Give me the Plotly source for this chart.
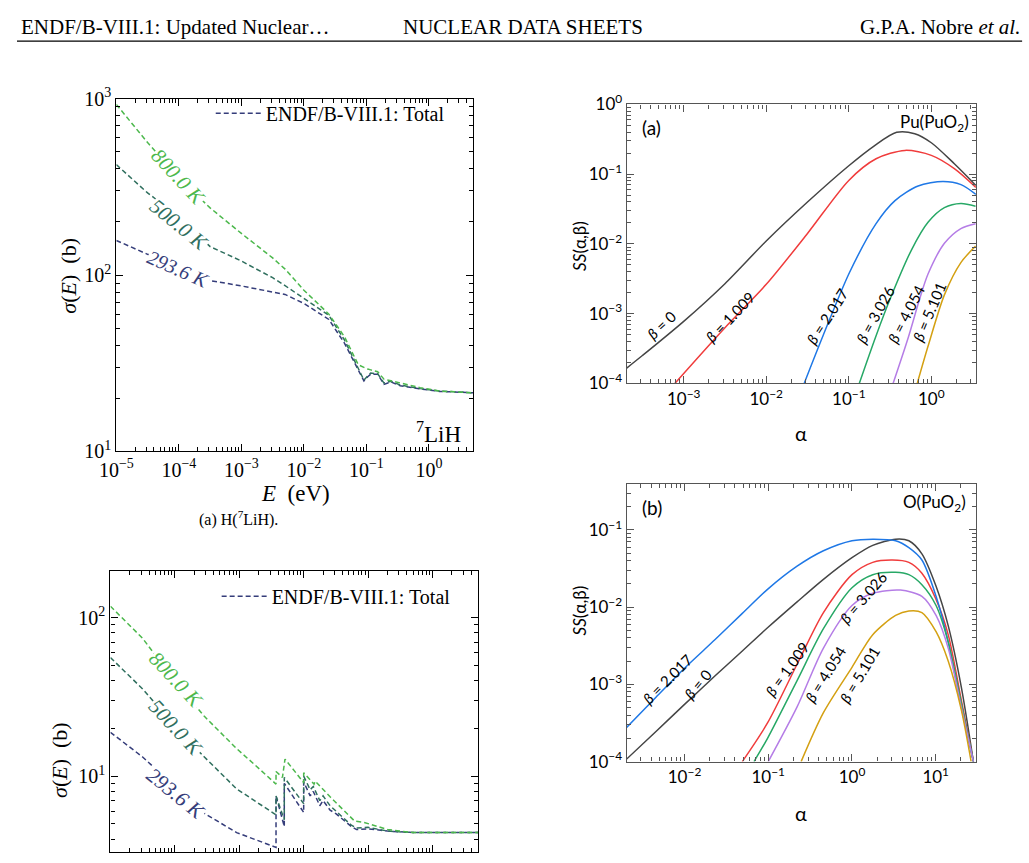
import plotly.graph_objects as go

W, H = 1029, 863

# ---------------- data: H(7LiH) total cross section (top-left) ----------------
E_lih = [1e-5, 3.16e-5, 1e-4, 3.16e-4, 1e-3, 3.16e-3, 5.0e-3, 0.01, 0.0251, 0.0447,
         0.0741, 0.0912, 0.105, 0.117, 0.151, 0.191, 0.245, 0.347, 0.724, 1.48, 5.13]
sig_lih_293 = [157, 131, 112, 93, 86.7, 80, 77.6, 69, 56, 41,
               29, 25.1, 26.5, 27.4, 27.4, 24, 24.8, 23.6, 22.6, 21.9, 21.5]
sig_lih_500 = [422, 292, 214, 145, 120, 96.6, 87, 74, 59, 42.7,
               29.5, 25.4, 26.8, 27.8, 27.6, 24.4, 25.0, 23.8, 22.7, 22.0, 21.5]
sig_lih_800 = [927, 563, 355, 240, 172, 125, 108, 82, 60, 44.6,
               31, 29.8, 29.3, 29.0, 28.3, 25.7, 25.2, 24.3, 23.0, 22.0, 21.5]

# ---------------- data: second material (bottom-left) ----------------
E_b_293 = [1e-5, 3.16e-5, 4.9e-5, 1e-4, 2.82e-4, 9.1e-4, 3.72e-3, 3.72e-3, 5.0e-3, 5.0e-3,
           0.01, 0.01, 0.0126, 0.0141, 0.0178, 0.02, 0.0257, 0.0316, 0.055, 0.066,
           0.1, 0.2, 0.5, 5.13]
sig_b_293 = [18.9, 13.2, 11.2, 8.5, 5.85, 4.4, 3.55, 7.5, 4.8, 9.0,
             5.9, 9.2, 7.5, 8.0, 6.5, 7.0, 6.1, 5.8, 4.8, 4.6,
             4.65, 4.5, 4.4, 4.4]
E_b_500 = E_b_293
sig_b_500 = [56, 35.5, 28.9, 20.4, 13.3, 8.3, 5.7, 7.5, 5.3, 9.8,
             6.7, 10.0, 8.2, 8.6, 7.0, 7.5, 6.5, 6.0, 4.9, 4.7,
             4.75, 4.5, 4.4, 4.4]
E_b_800 = [1e-5, 3.16e-5, 4.9e-5, 1e-4, 2.82e-4, 9.1e-4, 1.62e-3, 3.72e-3, 3.72e-3, 4.68e-3,
           5.13e-3, 0.01, 0.01, 0.0145, 0.0151, 0.0257, 0.0617, 0.0871, 0.2, 0.5, 5.13]
sig_b_800 = [118, 74, 58.5, 40, 24, 14.9, 12.1, 8.9, 10.7, 9.8,
             12.8, 9.1, 10.5, 8.9, 9.3, 7.4, 5.2, 5.1, 4.6, 4.4, 4.4]

# ---------------- data: Pu(PuO2) S(alpha,beta) (top-right) ----------------
a_pu_b0 = [2.04e-4, 3.16e-4, 1e-3, 3.16e-3, 0.01, 0.0316, 0.1, 0.2, 0.38, 0.63, 1.0, 1.9, 3.47]
s_pu_b0 = [1.66e-4, 2.51e-4, 7.76e-4, 2.69e-3, 0.011, 0.0398, 0.132, 0.251, 0.398, 0.38, 0.282, 0.141, 0.069]
a_pu_b1 = [7.8e-4, 3.16e-3, 0.01, 0.0316, 0.1, 0.214, 0.479, 1.0, 1.9, 3.47]
s_pu_b1 = [1e-4, 6.3e-4, 2.63e-3, 0.0141, 0.0813, 0.166, 0.219, 0.186, 0.120, 0.0646]
a_pu_b2 = [0.0288, 0.049, 0.102, 0.214, 0.363, 0.692, 1.38, 2.29, 3.47]
s_pu_b2 = [1e-4, 4.9e-4, 3.89e-3, 0.0195, 0.0417, 0.0676, 0.0785, 0.0708, 0.0513]
a_pu_b3 = [0.134, 0.211, 0.319, 0.578, 0.912, 1.44, 2.28, 3.44]
s_pu_b3 = [1e-4, 4.6e-4, 1.66e-3, 8.3e-3, 0.0204, 0.0331, 0.038, 0.0347]
a_pu_b4 = [0.344, 0.527, 0.726, 0.912, 1.44, 2.28, 3.44]
s_pu_b4 = [1e-4, 4.6e-4, 1.66e-3, 3.7e-3, 0.0102, 0.0166, 0.0195]
a_pu_b5 = [0.675, 0.912, 1.44, 2.28, 3.44]
s_pu_b5 = [1e-4, 3.4e-4, 1.86e-3, 5.4e-3, 9.3e-3]

# ---------------- data: O(PuO2) S(alpha,beta) (bottom-right) ----------------
a_o = [0.00202, 0.00456, 0.01, 0.0232, 0.049, 0.098, 0.221, 0.456, 1.0, 1.77, 3.32,
       4.78, 6.84, 10.1, 14.1, 20.2, 28.2]
s_o_b2 = [2.75e-4, 6.8e-4, 1.62e-3, 3.8e-3, 8.3e-3, 0.017, 0.0339, 0.0537, 0.0724, 0.0759, 0.0724,
          0.0589, 0.0407, 0.0138, 3.55e-3, 5.1e-4, 1.0e-4]
s_o_b0 = [1.07e-4, 2.45e-4, 5.5e-4, 1.29e-3, 2.7e-3, 5.4e-3, 0.0117, 0.0229, 0.0437, 0.0631, 0.0759,
          0.0724, 0.049, 0.0186, 5.75e-3, 9.3e-4, 1.0e-4]
a_o_b1 = [0.049, 0.098, 0.221, 0.456, 1.0, 1.77, 3.03, 4.78, 6.84, 10.1, 14.1, 20.2, 28.2]
s_o_b1 = [1e-4, 3.16e-4, 1.82e-3, 8.5e-3, 0.0263, 0.038, 0.0407, 0.038, 0.0275, 0.0126, 4.4e-3, 6.3e-4, 1e-4]
a_o_b3 = [0.0676, 0.098, 0.221, 0.456, 1.0, 1.77, 3.32, 4.78, 6.84, 10.1, 14.1, 20.2, 28.2]
s_o_b3 = [1e-4, 2.0e-4, 1.12e-3, 5.25e-3, 0.0178, 0.0263, 0.0282, 0.0263, 0.0195, 0.0105, 3.55e-3, 5.75e-4, 1e-4]
a_o_b4 = [0.1, 0.221, 0.456, 1.0, 1.77, 3.8, 6.84, 10.1, 14.1, 20.2, 28.2]
s_o_b4 = [1e-4, 5.1e-4, 2.95e-3, 0.0105, 0.0151, 0.0166, 0.0138, 7.8e-3, 2.95e-3, 5.1e-4, 1e-4]
a_o_b5 = [0.247, 0.456, 1.0, 1.77, 3.32, 4.78, 6.84, 10.1, 14.1, 20.2, 26.5]
s_o_b5 = [1e-4, 4.3e-4, 1.66e-3, 4.4e-3, 7.8e-3, 8.9e-3, 8.5e-3, 4.8e-3, 2.0e-3, 4.7e-4, 1e-4]

temp_labels = ["293.6 K", "500.0 K", "800.0 K"]
beta_labels = ["0", "1.009", "2.017", "3.026", "4.054", "5.101"]

# ---------------- styling ----------------
C_T = ["#353d7a", "#2f6f5e", "#4cb84c"]
C_B = ["#454545", "#f03c3c", "#1f78e6", "#27a866", "#b57de6", "#d4a012"]
SERIF = "Liberation Serif"
SANS = "Lato"


def px(x):
    return x / W


def py(y):
    return 1 - y / H


def sup(e):
    return "10<sup>" + str(e).replace("-", "\u2212") + "</sup>"


def log_axis(dom, rng, anchor, e0, e1, font, lc, lw, labels=True):
    vals = [10.0 ** e for e in range(e0, e1 + 1)]
    minor = [k * 10.0 ** e for e in range(e0 - 1, e1 + 1) for k in range(2, 10)]
    return dict(type="log", domain=dom, range=rng, anchor=anchor,
                showline=True, linecolor=lc, linewidth=lw, mirror="allticks",
                ticks="inside", ticklen=7, tickwidth=1, tickcolor=lc,
                tickmode="array", tickvals=vals, ticktext=[sup(e) for e in range(e0, e1 + 1)],
                showticklabels=labels, tickfont=font,
                minor=dict(tickmode="array", tickvals=minor, ticks="inside",
                           ticklen=4, tickwidth=1, tickcolor=lc, showgrid=False),
                showgrid=False, zeroline=False)


fig = go.Figure()
dash = "5px,3px"

# top-left
for E, s, c, name, show in [(E_lih, sig_lih_293, C_T[0], "ENDF/B-VIII.1: Total", True),
                            (E_lih, sig_lih_500, C_T[1], "500 K", False),
                            (E_lih, sig_lih_800, C_T[2], "800 K", False)]:
    fig.add_trace(go.Scatter(x=E, y=s, mode="lines", name=name, showlegend=show,
                             line=dict(color=c, width=1.5, dash=dash),
                             xaxis="x", yaxis="y", legend="legend"))
# bottom-left
for E, s, c, name, show in [(E_b_293, sig_b_293, C_T[0], "ENDF/B-VIII.1: Total", True),
                            (E_b_500, sig_b_500, C_T[1], "500 K", False),
                            (E_b_800, sig_b_800, C_T[2], "800 K", False)]:
    fig.add_trace(go.Scatter(x=E, y=s, mode="lines", name=name, showlegend=show,
                             line=dict(color=c, width=1.5, dash=dash),
                             xaxis="x2", yaxis="y2", legend="legend2"))
# top-right
for a, s, c in zip([a_pu_b0, a_pu_b1, a_pu_b2, a_pu_b3, a_pu_b4, a_pu_b5],
                   [s_pu_b0, s_pu_b1, s_pu_b2, s_pu_b3, s_pu_b4, s_pu_b5], C_B):
    fig.add_trace(go.Scatter(x=a, y=s, mode="lines", showlegend=False,
                             line=dict(color=c, width=1.5, shape="spline", smoothing=0.8),
                             xaxis="x3", yaxis="y3"))
# bottom-right
for a, s, c in zip([a_o, a_o_b1, a_o, a_o_b3, a_o_b4, a_o_b5],
                   [s_o_b0, s_o_b1, s_o_b2, s_o_b3, s_o_b4, s_o_b5], C_B):
    fig.add_trace(go.Scatter(x=a, y=s, mode="lines", showlegend=False,
                             line=dict(color=c, width=1.5, shape="spline", smoothing=0.8),
                             xaxis="x4", yaxis="y4"))

fL = dict(family=SERIF, size=20, color="black")
fR = dict(family=SANS, size=17, color="black")

ann = []


def A(x, y, text, size, color="black", family=SERIF, angle=0, xanchor="center", bg=None, yanchor="middle"):
    d = dict(x=px(x), y=py(y), xref="paper", yref="paper", text=text, showarrow=False,
             font=dict(family=family, size=size, color=color), textangle=angle,
             xanchor=xanchor, yanchor=yanchor)
    if bg:
        d["bgcolor"] = bg
        d["borderpad"] = 0
    ann.append(d)


# header
A(2, 14, "ENDF/B-VIII.1: Updated Nuclear\u2026", 21, xanchor="left")
A(515, 14, "NUCLEAR DATA SHEETS", 21)
A(1022, 14, "G.P.A. Nobre <i>et al.</i>", 21, xanchor="right")

# top-left texts
A(52, 270, "<i>σ</i>(<i>E</i>)\u2002(b)", 22, angle=-90)
A(283, 494, "<i>E</i>\u2002(eV)", 23)
A(225, 520, "(a) H(<sup>7</sup>LiH).", 16)
A(453, 432, "<sup>7</sup>LiH", 23, xanchor="right")
A(164, 169, "<i>" + temp_labels[2] + "</i>", 21, C_T[2], angle=47, bg="white")
A(165, 218, "<i>" + temp_labels[1] + "</i>", 21, C_T[1], angle=39, bg="white")
A(164, 263, "<i>" + temp_labels[0] + "</i>", 20, C_T[0], angle=24, bg="white")

# bottom-left texts
A(43, 768, "<i>σ</i>(<i>E</i>)\u2002(b)", 22, angle=-90)
A(162, 686, "<i>" + temp_labels[2] + "</i>", 21, C_T[2], angle=47, bg="white")
A(162, 735, "<i>" + temp_labels[1] + "</i>", 21, C_T[1], angle=47, bg="white")
A(162, 803, "<i>" + temp_labels[0] + "</i>", 21, C_T[0], angle=39, bg="white")

# top-right texts
A(572, 240, "<i>SS</i>(α,β)", 17, family=SANS, angle=-90)
A(797, 432, "α", 20, family=SANS)
A(645, 118, "(a)", 19, family=SANS)
A(970, 113, "Pu(PuO<sub>2</sub>)", 17, family=SANS, xanchor="right")
for (x, y, ang), b in zip([(655, 321, -43), (725, 313, -46), (824, 312, -57),
                           (873, 310, -61), (904, 310, -63), (928, 307, -67)], beta_labels):
    A(x, y, "<i>β</i> = " + b, 15, family=SANS, angle=ang)

# bottom-right texts
A(572, 615, "<i>SS</i>(α,β)", 17, family=SANS, angle=-90)
A(797, 823, "α", 20, family=SANS)
A(646, 509, "(b)", 19, family=SANS)
A(967, 504, "O(PuO<sub>2</sub>)", 17, family=SANS, xanchor="right")
for (x, y, ang), b in zip([(692, 690, -50), (783, 675, -54), (661, 685, -45),
                           (861, 601, -49), (822, 680, -58), (857, 680, -59)], beta_labels):
    A(x, y, "<i>β</i> = " + b, 15, family=SANS, angle=ang)

shapes = [dict(type="line", xref="paper", yref="paper", x0=0, x1=px(1022), y0=py(29), y1=py(29),
               line=dict(color="black", width=1.2))]

leg = dict(xanchor="left", yanchor="top", bgcolor="rgba(0,0,0,0)", borderwidth=0,
           font=dict(family=SERIF, size=20, color="black"), itemwidth=45)

fig.update_layout(
    width=W, height=H, margin=dict(l=0, r=0, t=0, b=0),
    paper_bgcolor="white", plot_bgcolor="white",
    xaxis=log_axis([px(101), px(464)], [-5, 0.71], "y", -5, 0, fL, "black", 1.2),
    yaxis=log_axis([py(451), py(88)], [1, 3], "x", 1, 3, fL, "black", 1.2),
    xaxis2=log_axis([px(95), px(469)], [-5, 0.71], "y2", -5, 0, fL, "black", 1.2, labels=False),
    yaxis2=log_axis([0, py(574)], [0.521, 2.294], "x2", 0, 2, fL, "black", 1.2),
    xaxis3=log_axis([px(620), px(975)], [-3.69, 0.54], "y3", -3, 0, fR, "#555555", 1.4),
    yaxis3=log_axis([py(381), py(94)], [-4, 0], "x3", -4, 0, fR, "#555555", 1.4),
    xaxis4=log_axis([px(620), px(975)], [-2.69, 1.48], "y4", -2, 1, fR, "#555555", 1.4),
    yaxis4=log_axis([py(770), py(484)], [-4, -0.4], "x4", -4, -1, fR, "#555555", 1.4),
    legend=dict(leg, x=px(197), y=py(83)),
    legend2=dict(leg, x=px(203), y=py(580)),
    annotations=ann, shapes=shapes,
)

fig.write_html("out.html")
